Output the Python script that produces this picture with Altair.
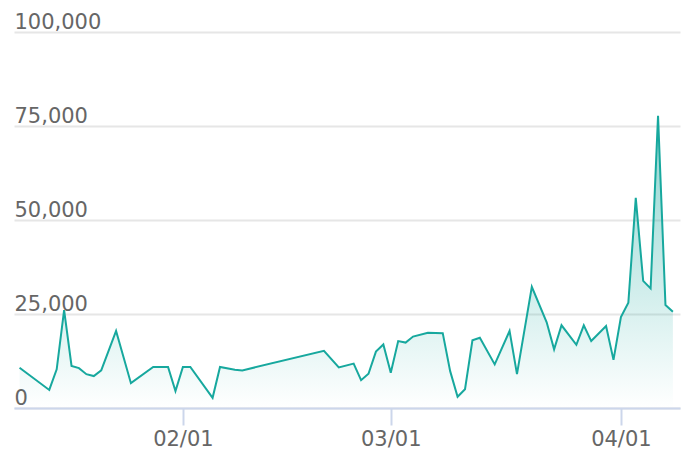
import altair as alt
import pandas as pd

dates = [
    "2023-01-10", "2023-01-14", "2023-01-15", "2023-01-16", "2023-01-17",
    "2023-01-18", "2023-01-19", "2023-01-20", "2023-01-21", "2023-01-23",
    "2023-01-25", "2023-01-28", "2023-01-30", "2023-01-31", "2023-02-01",
    "2023-02-02", "2023-02-05", "2023-02-06", "2023-02-08", "2023-02-09",
    "2023-02-20", "2023-02-22", "2023-02-24", "2023-02-25", "2023-02-26",
    "2023-02-27", "2023-02-28", "2023-03-01", "2023-03-02", "2023-03-03",
    "2023-03-04", "2023-03-06", "2023-03-08", "2023-03-09", "2023-03-10",
    "2023-03-11", "2023-03-12", "2023-03-13", "2023-03-15", "2023-03-17",
    "2023-03-18", "2023-03-20", "2023-03-22", "2023-03-23", "2023-03-24",
    "2023-03-26", "2023-03-27", "2023-03-28", "2023-03-30", "2023-03-31",
    "2023-04-01", "2023-04-02", "2023-04-03", "2023-04-04", "2023-04-05",
    "2023-04-06", "2023-04-07", "2023-04-08",
]
values = [
    10700, 4800, 10300, 26000, 11200,
    10600, 9000, 8500, 10000, 20500,
    6600, 10900, 10900, 4500, 10900,
    10900, 2700, 10900, 10200, 10000,
    15200, 10800, 11800, 7400, 9100,
    15000, 16900, 9400, 17800, 17400,
    19000, 20000, 19900, 9800, 3000,
    5000, 18000, 18700, 11600, 20500,
    9000, 32200, 22800, 15600, 22000,
    16800, 22000, 17800, 21800, 12800,
    24200, 28000, 55900, 33800, 31800,
    77700, 27400, 25600,
]
y_ticks = [0, 25000, 50000, 75000, 100000]
x_tick_months = [2, 3, 4]

df = pd.DataFrame({"date": dates, "value": values})

line_color = "#17a89e"
font = "DejaVu Sans"

x_enc = alt.X(
    "date:T",
    scale=alt.Scale(
        type="utc",
        nice=False,
        domain=[
            alt.DateTime(year=2023, month=1, date=9, hours=6, utc=True),
            alt.DateTime(year=2023, month=4, date=8, hours=23, utc=True),
        ],
    ),
    axis=alt.Axis(
        title=None,
        values=[alt.DateTime(year=2023, month=m, date=1, utc=True) for m in x_tick_months],
        format="%m/%d",
        grid=False,
        domainColor="#ccd6eb",
        domainWidth=2,
        tickColor="#ccd6eb",
        tickSize=17,
        tickWidth=2,
        labelFont=font,
        labelFontSize=21,
        labelColor="#666666",
        labelPadding=3,
        labelFlush=False,
    ),
)

y_enc = alt.Y(
    "value:Q",
    scale=alt.Scale(domain=[0, 100000], nice=False),
    axis=alt.Axis(
        title=None,
        values=y_ticks,
        format=",.0f",
        domain=False,
        ticks=False,
        tickSize=0,
        labelAlign="left",
        labelBaseline="alphabetic",
        labelOffset=-4,
        labelPadding=0,
        labelFont=font,
        labelFontSize=21,
        labelColor="#666666",
        labelFlush=False,
        labelOverlap=False,
        gridColor="#e6e6e6",
        gridWidth=2,
    ),
)

chart = (
    alt.Chart(df)
    .mark_area(
        interpolate="linear",
        line=alt.OverlayMarkDef(color=line_color, strokeWidth=2),
        color=alt.Gradient(
            gradient="linear",
            stops=[
                alt.GradientStop(color="rgba(23,168,158,0.7)", offset=0),
                alt.GradientStop(color="rgba(23,168,158,0)", offset=1),
            ],
            x1=1, x2=1, y1=0, y2=1,
        ),
    )
    .encode(x=x_enc, y=y_enc)
    .properties(
        width=666,
        height=376,
        padding={"left": 6, "top": 3, "right": 4, "bottom": 5},
    )
    .configure_view(stroke=None)
)

chart.save("out.html", embed_options={"renderer": "svg", "actions": False})
